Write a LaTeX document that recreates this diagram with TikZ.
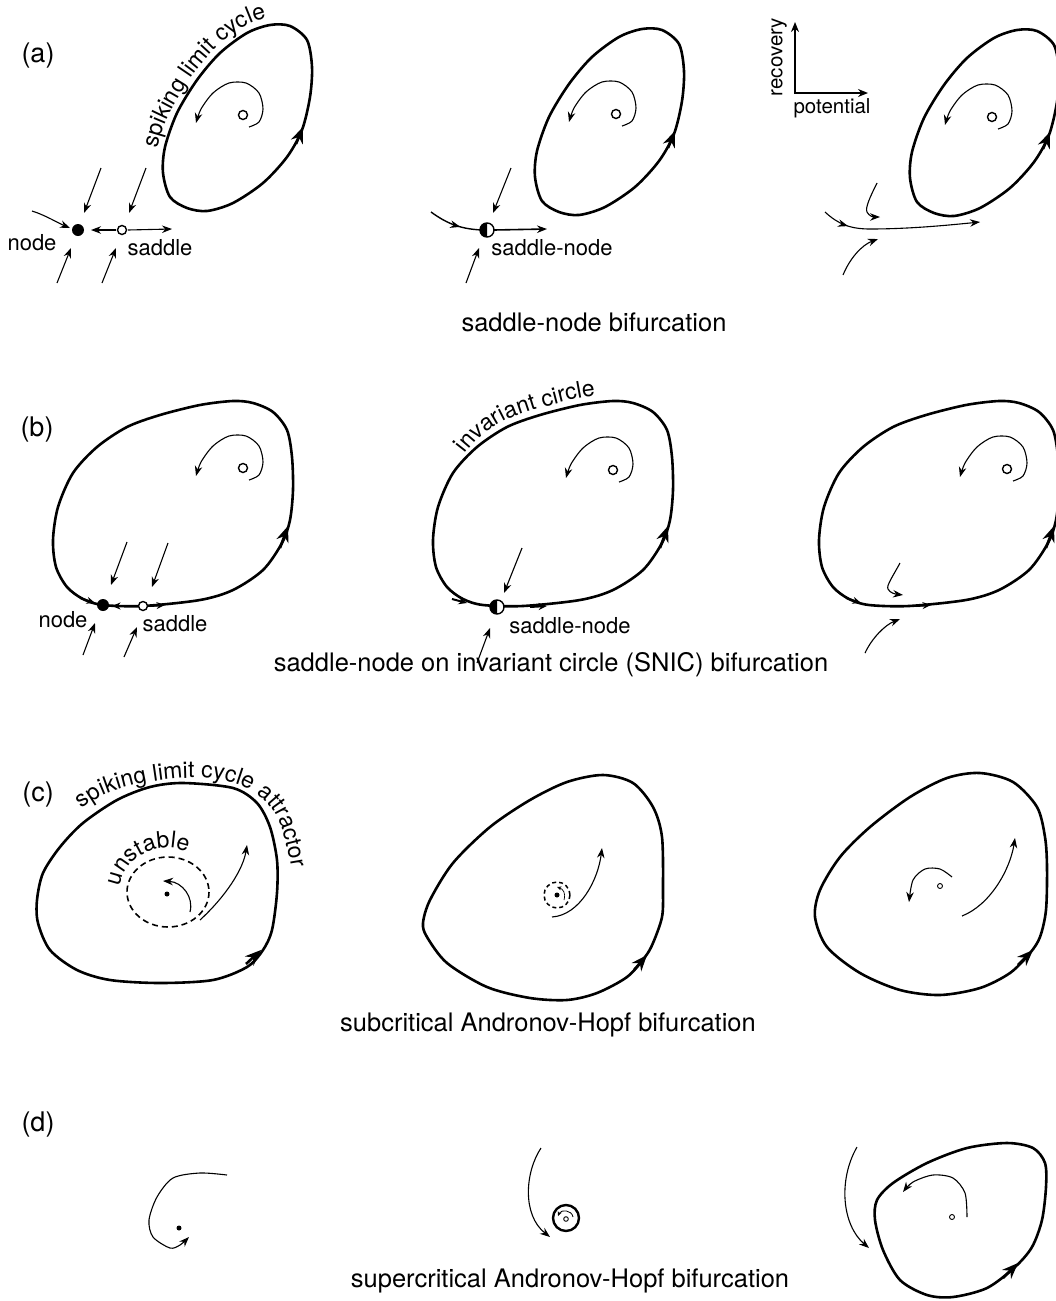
\documentclass[tikz,border=0pt]{standalone}
\usepackage{fontspec}
\setmainfont{TeX Gyre Heros}
\usetikzlibrary{arrows.meta,decorations.text,decorations.markings}
\newcommand\lblfont{\fontsize{22}{26}\selectfont}
\newcommand\crvfont{\fontsize{23}{27}\selectfont}
\newcommand\axfont{\fontsize{20.5}{24}\selectfont}
\newcommand\capfont{\fontsize{25.5}{30}\selectfont}
\newcommand\panfont{\fontsize{27}{32}\selectfont}
\newcommand\mkspiral[2]{\begin{scope}[shift={(#1,#2)}]\draw[thinln,atip] plot[smooth] coordinates {(6,12) (16,7) (20,-6) (16,-22) (3,-32) (-14,-32) (-30,-22) (-42,-6) (-47,8)};\end{scope}}
\newcommand\mkopen[2]{\draw[line width=1.4pt,fill=white] (#1,#2) circle[radius=4.5];}
\newcommand\mksn[2]{\fill[white] (#1,#2) circle[radius=7];
 \begin{scope}\clip (#1-9,#2-9) rectangle (#1,#2+9); \fill (#1,#2) circle[radius=7];\end{scope}
 \draw[line width=1.4pt] (#1,#2) circle[radius=7];}
\newcommand\acycle[2]{\draw[cyc,shift={(#1,#2)}] plot[smooth cycle] coordinates {(290,26) (307,40) (312,67) (310,97) (302,130) (287,157) (263,183) (233,203) (207,211) (187,208) (170,197) (163,173) (165,147) (177,113) (197,80) (220,53) (247,33) (270,25)};}
\newcommand\bcycle[1]{\draw[cyc,shift={(#1,0)}] plot[smooth cycle] coordinates {(103,605) (143,606) (200,600) (233,590) (263,570) (282,543) (290,520) (293,490) (292,457) (287,430) (273,412) (253,403) (233,401) (200,405) (160,415) (127,427) (97,447) (73,473) (58,507) (53,540) (56,567) (67,587) (83,599)};}
\begin{document}
\begin{tikzpicture}[x=1pt,y=-1pt,
  lbl/.style={font=\lblfont, inner sep=0pt},
  captext/.style={font=\capfont, inner sep=0pt},
  pantext/.style={font=\panfont, inner sep=0pt},
  cyc/.style={line width=2.6pt, line join=round},
  thinln/.style={line width=1.1pt},
  atip/.style={-{Stealth[length=10pt,width=7.5pt]}},
  tinytip/.style={-{Stealth[length=4.5pt,width=4pt]}},
  smalltip/.style={-{Stealth[length=8.5pt,width=7pt]}},
  bigtip/.style={-{Stealth[length=16pt,width=12.5pt]}},
  midtip/.style={postaction={decorate}, decoration={markings, mark=at position #1 with {\arrow{Stealth[length=10pt,width=7.5pt]}}}},
  dsh/.style={line width=1.6pt, dash pattern=on 6pt off 4pt}
]
\useasboundingbox (0,0) rectangle (1056,1301);
\fill[white] (0,0) rectangle (1056,1301);

% ===================== (a) =====================
\node[pantext] (la) at (38,56) {(a)};
\acycle{0}{0}
\draw[cyc,bigtip] (296,144) -- (303,127);
\mkspiral{243}{115}\mkopen{243}{115}
\path[decorate,decoration={text along path,text={|\crvfont|spiking limit cycle}}] plot[smooth] coordinates {(158,149) (164,127) (175,104) (195,72) (219,45) (247,25) (273,17) (300,18)};
\draw[thinln,atip] (116,230) -- (91,230);
\draw[thinln,atip] (128,230) -- (172,229);
\draw[thinln,atip] (101,168) -- (84,213);
\draw[thinln,atip] (146,168) -- (129,213);
\draw[thinln,atip] (57,283) -- (71,248);
\draw[thinln,atip] (102,283) -- (116,248);
\draw[thinln,atip] (32,211) .. controls (45,215) and (58,223) .. (70,228);
\fill (78,230) circle[radius=6];
\mkopen{122}{230}
\node[lbl] (an) at (32,243) {node};
\node[lbl] (as) at (160,248) {saddle};

\acycle{372}{4}
\draw[cyc,bigtip] (668,148) -- (675,131);
\mkspiral{616}{114}\mkopen{616}{114}
\draw[line width=1.4pt, midtip=0.6] (431,212) .. controls (445,222) and (458,229) .. (482,230);
\draw[line width=1.6pt,atip] (494,230) -- (547,229);
\draw[thinln,atip] (511,168) -- (493,213);
\draw[thinln,atip] (466,283) -- (479,248);
\mksn{487}{230}
\node[lbl] (asn) at (552,248) {saddle-node};

\acycle{747}{5}
\draw[cyc,bigtip] (1043,149) -- (1050,132);
\mkspiral{992}{117}\mkopen{992}{117}
\draw[line width=1.8pt, {Stealth[length=10pt,width=8pt]}-{Stealth[length=10pt,width=8pt]}] (795,22) -- (795,93) -- (868,93);
\node[inner sep=0pt,font=\axfont,rotate=90] (rec) at (779,57) {recovery};
\node[inner sep=0pt,font=\axfont] (pot) at (832,108) {potential};
\draw[thinln,atip,midtip=0.17] (825,212) .. controls (838,224) and (850,229) .. (870,229) .. controls (910,229) and (950,225) .. (980,222);
\draw[thinln,atip] (877,183) .. controls (870,197) and (865,208) .. (867,212) .. controls (869,216) and (873,217) .. (880,217);
\draw[thinln,atip] (843,275) .. controls (850,258) and (862,245) .. (878,239);
\node[captext] (capa) at (594,322) {saddle-node bifurcation};

% ===================== (b) =====================
\node[pantext] (lb) at (37,430) {(b)};
\bcycle{0}
\draw[cyc,bigtip] (280,548) -- (288,526);
\draw[line width=2pt,smalltip] (80,598) -- (95,603);
\draw[line width=2pt,smalltip] (137,606) -- (112,606);
\draw[line width=2pt,smalltip] (150,606) -- (165,605);
\fill (103,605) circle[radius=6];
\mkopen{143}{606}
\draw[thinln,atip] (127,542) -- (111,585);
\draw[thinln,atip] (168,543) -- (152,587);
\draw[thinln,atip] (83,655) -- (95,623);
\draw[thinln,atip] (124,657) -- (137,627);
\node[lbl] (bn) at (63,620) {node};
\node[lbl] (bs) at (175,624) {saddle};
\mkspiral{243}{468}\mkopen{243}{468}

\bcycle{380}
\draw[cyc,bigtip] (660,548) -- (668,526);
\draw[line width=2pt,smalltip] (452,599) -- (467,603);
\draw[line width=2pt,smalltip] (530,607) -- (547,606);
\draw[thinln,atip] (522,548) -- (504,593);
\draw[thinln,atip] (477,663) -- (490,628);
\mksn{497}{607}
\node[lbl] (bsn) at (570,626) {saddle-node};
\mkspiral{613}{470}\mkopen{613}{470}
\path[decorate,decoration={text along path,text={|\crvfont|invariant circle}}] plot[smooth] coordinates {(465,454) (480,437) (506,420) (540,408) (580,398) (615,394) (645,396)};

\bcycle{766}
\draw[cyc,bigtip] (1046,548) -- (1054,526);
\draw[line width=2pt,smalltip] (846,598) -- (861,603);
\draw[line width=2pt,smalltip] (916,606) -- (931,605);
\draw[thinln,atip] (900,563) .. controls (893,576) and (886,586) .. (888,589) .. controls (890,593) and (895,594) .. (903,595);
\draw[thinln,atip] (865,653) .. controls (872,638) and (885,625) .. (900,619);
\mkspiral{1007}{469}\mkopen{1007}{469}
\node[captext] (capb) at (551,665) {saddle-node on invariant circle (SNIC) bifurcation};

% ===================== (c) =====================
\node[pantext] (lc) at (38,795) {(c)};
\draw[cyc] plot[smooth cycle] coordinates {(183,783) (233,788) (257,803) (270,827) (277,860) (277,893) (272,930) (263,950) (247,967) (213,980) (160,983) (110,980) (77,970) (50,950) (38,923) (37,900) (43,873) (60,847) (83,823) (117,800) (150,787)};
\draw[cyc,bigtip] (246,964) -- (261,950);
\draw[dsh] (168,892) ellipse[x radius=41, y radius=35];
\fill (167,894) circle[radius=2.5];
\draw[thinln,atip] (190,912) .. controls (194,897) and (182,882) .. (163,881);
\draw[thinln,atip] (200,920) .. controls (225,897) and (243,870) .. (247,845);
\path[decorate,decoration={text along path,text={|\crvfont|unstable}}] plot[domain=174:40,samples=40,variable=\t] ({168+48*cos(\t)},{891-43*sin(\t)});
\path[decorate,decoration={text along path,text={|\crvfont|spiking limit cycle attractor}}] plot[smooth] coordinates {(82,809) (101,796) (126,787) (155,781) (185,778) (215,779) (240,785) (261,797) (276,815) (286,842) (292,872) (294,905)};

\draw[cyc] plot[smooth cycle] coordinates {(603,775) (633,783) (653,807) (662,837) (663,890) (662,917) (653,943) (645,957) (627,977) (597,993) (567,1000) (530,998) (487,987) (447,963) (427,937) (423,923) (430,900) (453,863) (490,827) (530,800) (567,782)};
\draw[cyc,bigtip] (634,970) -- (647,955);
\draw[line width=1.5pt, dash pattern=on 4pt off 3pt] (557,895) circle[radius=13];
\fill (557,895) circle[radius=2.5];
\draw[line width=0.7pt,tinytip] (564,900) .. controls (566,893) and (563,889) .. (557,887);
\draw[thinln,atip] (552,917) .. controls (580,915) and (598,880) .. (602,848);

\draw[cyc] plot[smooth cycle] coordinates {(980,773) (1013,782) (1037,807) (1045,837) (1047,867) (1046,910) (1040,937) (1030,953) (1010,973) (980,988) (940,995) (900,990) (860,973) (827,947) (815,917) (820,890) (840,857) (870,827) (910,797) (947,778)};
\draw[cyc,bigtip] (1018,965) -- (1033,950);
\draw[line width=0.9pt] (940,886) circle[radius=2.5];
\draw[thinln,atip] plot[smooth] coordinates {(952,877) (940,869) (925,869) (913,880) (909,902)};
\draw[thinln,atip] (962,916) .. controls (990,905) and (1010,870) .. (1015,838);
\node[captext] (capc) at (548,1025) {subcritical Andronov-Hopf bifurcation};

% ===================== (d) =====================
\node[pantext] (ld) at (38,1125) {(d)};
\fill (179,1228) circle[radius=2.5];
\draw[thinln,atip] plot[smooth] coordinates {(227,1175) (200,1173) (173,1178) (157,1197) (149,1220) (153,1237) (170,1248) (180,1245) (189,1237)};

\draw[thinln,atip] (541,1148) .. controls (525,1172) and (522,1215) .. (550,1237);
\draw[line width=2.4pt] (566,1218) circle[radius=13];
\draw[line width=0.9pt] (566,1219) circle[radius=2.3];
\draw[line width=0.8pt,tinytip] (573,1217) .. controls (572,1210) and (561,1209) .. (558,1216);

\draw[cyc] plot[smooth cycle] coordinates {(1007,1143) (1033,1148) (1045,1163) (1046,1187) (1042,1220) (1032,1247) (1015,1267) (987,1288) (953,1297) (927,1295) (900,1280) (883,1250) (875,1220) (877,1200) (893,1183) (927,1163) (967,1148)};
\draw[cyc,bigtip] (1003,1278) -- (1018,1263);
\draw[line width=0.9pt] (952,1217) circle[radius=2.5];
\draw[thinln,atip] plot[smooth] coordinates {(967,1217) (965,1193) (953,1178) (933,1175) (913,1182) (903,1192)};
\draw[thinln,atip] (857,1147) .. controls (838,1180) and (842,1225) .. (869,1248);
\node[captext] (capd) at (570,1281) {supercritical Andronov-Hopf bifurcation};
\end{tikzpicture}
\end{document}
